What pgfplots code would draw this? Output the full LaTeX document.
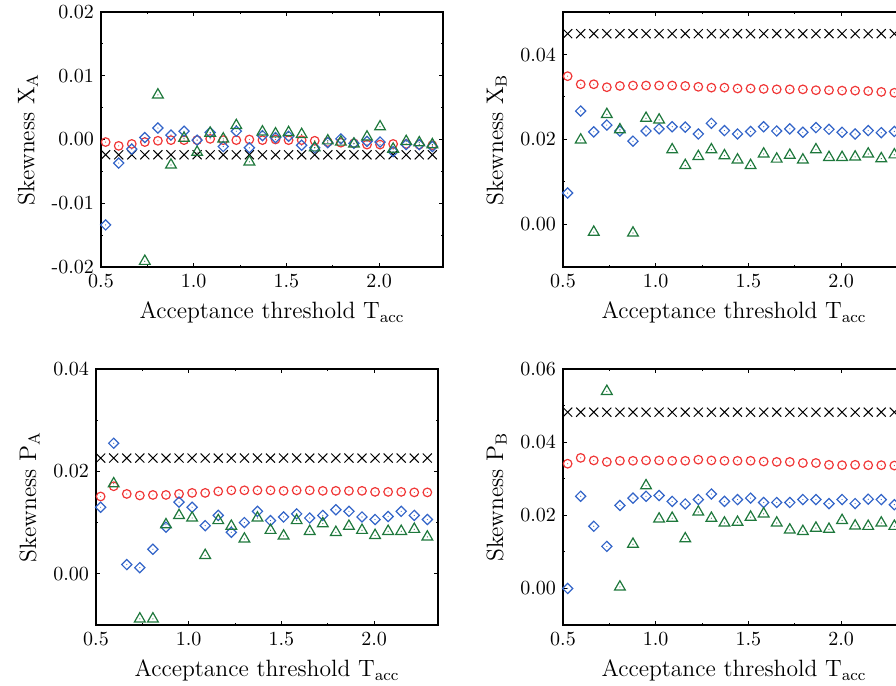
\documentclass[border=0pt]{standalone}
\usepackage{pgfplots}
\usepackage{pgfplotstable}
\pgfplotsset{compat=1.18}
\definecolor{cred}{RGB}{240,55,55}
\definecolor{cblue}{RGB}{50,100,200}
\definecolor{cgreen}{RGB}{30,120,60}
\pgfdeclareplotmark{ocirc}{%
  \pgfpathcircle{\pgfpointorigin}{\pgfplotmarksize}\pgfusepathqstroke
  \pgfpathcircle{\pgfpointorigin}{0.3pt}\pgfusepathqfill}
\pgfdeclareplotmark{odiam}{%
  \pgfpathmoveto{\pgfqpoint{0pt}{1.414\pgfplotmarksize}}%
  \pgfpathlineto{\pgfqpoint{1.414\pgfplotmarksize}{0pt}}%
  \pgfpathlineto{\pgfqpoint{0pt}{-1.414\pgfplotmarksize}}%
  \pgfpathlineto{\pgfqpoint{-1.414\pgfplotmarksize}{0pt}}%
  \pgfpathclose\pgfusepathqstroke
  \pgfpathcircle{\pgfpointorigin}{0.3pt}\pgfusepathqfill}
\pgfdeclareplotmark{otri}{%
  \pgfpathmoveto{\pgfqpoint{0pt}{\pgfplotmarksize}}%
  \pgfpathlineto{\pgfqpoint{-0.866\pgfplotmarksize}{-0.5\pgfplotmarksize}}%
  \pgfpathlineto{\pgfqpoint{0.866\pgfplotmarksize}{-0.5\pgfplotmarksize}}%
  \pgfpathclose\pgfusepathqstroke
  \pgfpathcircle{\pgfpointorigin}{0.3pt}\pgfusepathqfill}

% columns: x, c = circles, d = diamonds, t = triangles, m = crosses
\pgfplotstableread{
x c d t m
0.525 -0.0004 -0.0134 nan -0.0024
0.5955 -0.0010 -0.0037 nan -0.0024
0.666 -0.0007 -0.0015 nan -0.0024
0.7365 -0.0004 0.0003 -0.0191 -0.0024
0.807 -0.0002 0.0018 0.0070 -0.0024
0.8775 -0.0001 0.0007 -0.0040 -0.0024
0.948 -0.0001 0.0013 0.0002 -0.0024
1.0185 -0.0001 -0.0001 -0.0020 -0.0024
1.089 0.0001 0.0011 0.0010 -0.0024
1.1595 -0.0001 -0.0011 0.0001 -0.0024
1.23 -0.0001 0.0013 0.0022 -0.0024
1.3005 0.0000 -0.0013 -0.0035 -0.0024
1.371 -0.0001 0.0006 0.0012 -0.0024
1.4415 0.0000 0.0003 0.0009 -0.0024
1.512 -0.0001 0.0005 0.0011 -0.0024
1.5825 -0.0001 -0.0009 0.0008 -0.0024
1.653 -0.0002 -0.0013 -0.0013 -0.0024
1.7235 -0.0004 -0.0005 -0.0002 -0.0024
1.794 -0.0005 0.0001 -0.0004 -0.0024
1.8645 -0.0006 -0.0006 -0.0007 -0.0024
1.935 -0.0008 -0.0003 0.0004 -0.0024
2.0055 -0.0008 -0.0004 0.0020 -0.0024
2.076 -0.0007 -0.0019 -0.0015 -0.0024
2.1465 -0.0007 -0.0008 -0.0003 -0.0024
2.217 -0.0008 -0.0008 -0.0005 -0.0024
2.2875 -0.0009 -0.0011 -0.0008 -0.0024
}\tabXA

\pgfplotstableread{
x c d t m
0.525 0.0349 0.0074 nan 0.0449
0.5955 0.0330 0.0267 0.0199 0.0449
0.666 0.0330 0.0218 -0.0018 0.0449
0.7365 0.0323 0.0234 0.0259 0.0449
0.807 0.0326 0.0220 0.0223 0.0449
0.8775 0.0327 0.0196 -0.0020 0.0449
0.948 0.0327 0.0220 0.0250 0.0449
1.0185 0.0327 0.0225 0.0246 0.0449
1.089 0.0327 0.0230 0.0176 0.0449
1.1595 0.0326 0.0229 0.0139 0.0449
1.23 0.0324 0.0213 0.0160 0.0449
1.3005 0.0322 0.0238 0.0176 0.0449
1.371 0.0322 0.0221 0.0162 0.0449
1.4415 0.0320 0.0213 0.0152 0.0449
1.512 0.0320 0.0219 0.0139 0.0449
1.5825 0.0319 0.0230 0.0166 0.0449
1.653 0.0318 0.0220 0.0154 0.0449
1.7235 0.0318 0.0225 0.0163 0.0449
1.794 0.0318 0.0217 0.0152 0.0449
1.8645 0.0316 0.0228 0.0176 0.0449
1.935 0.0316 0.0224 0.0158 0.0449
2.0055 0.0315 0.0217 0.0158 0.0449
2.076 0.0315 0.0213 0.0159 0.0449
2.1465 0.0314 0.0221 0.0166 0.0449
2.217 0.0312 0.0216 0.0155 0.0449
2.2875 0.0310 0.0219 0.0164 0.0449
}\tabXB

\pgfplotstableread{
x c d t m
0.525 0.0151 0.0130 nan 0.0226
0.5955 0.0171 0.0255 0.0176 0.0226
0.666 0.0156 0.0018 nan 0.0226
0.7365 0.0153 0.0012 -0.0088 0.0226
0.807 0.0154 0.0048 -0.0088 0.0226
0.8775 0.0154 0.0091 0.0096 0.0226
0.948 0.0156 0.0140 0.0114 0.0226
1.0185 0.0158 0.0130 0.0109 0.0226
1.089 0.0158 0.0094 0.0036 0.0226
1.1595 0.0161 0.0114 0.0104 0.0226
1.23 0.0163 0.0081 0.0093 0.0226
1.3005 0.0163 0.0100 0.0068 0.0226
1.371 0.0163 0.0122 0.0109 0.0226
1.4415 0.0163 0.0104 0.0085 0.0226
1.512 0.0162 0.0111 0.0074 0.0226
1.5825 0.0163 0.0117 0.0104 0.0226
1.653 0.0163 0.0109 0.0083 0.0226
1.7235 0.0162 0.0114 0.0098 0.0226
1.794 0.0162 0.0125 0.0081 0.0226
1.8645 0.0162 0.0122 0.0093 0.0226
1.935 0.0162 0.0111 0.0085 0.0226
2.0055 0.0160 0.0106 0.0075 0.0226
2.076 0.0160 0.0112 0.0083 0.0226
2.1465 0.0160 0.0122 0.0083 0.0226
2.217 0.0159 0.0114 0.0087 0.0226
2.2875 0.0159 0.0106 0.0072 0.0226
}\tabPA

\pgfplotstableread{
x c d t m
0.525 0.0341 0.0000 nan 0.0482
0.5955 0.0357 0.0252 nan 0.0482
0.666 0.0350 0.0170 nan 0.0482
0.7365 0.0346 0.0115 0.0539 0.0482
0.807 0.0349 0.0227 0.0004 0.0482
0.8775 0.0349 0.0247 0.0121 0.0482
0.948 0.0350 0.0252 0.0281 0.0482
1.0185 0.0350 0.0254 0.0190 0.0482
1.089 0.0349 0.0238 0.0192 0.0482
1.1595 0.0349 0.0231 0.0136 0.0482
1.23 0.0352 0.0243 0.0209 0.0482
1.3005 0.0350 0.0258 0.0192 0.0482
1.371 0.0349 0.0238 0.0179 0.0482
1.4415 0.0349 0.0243 0.0181 0.0482
1.512 0.0349 0.0247 0.0195 0.0482
1.5825 0.0347 0.0235 0.0204 0.0482
1.653 0.0346 0.0235 0.0179 0.0482
1.7235 0.0346 0.0235 0.0160 0.0482
1.794 0.0343 0.0243 0.0156 0.0482
1.8645 0.0343 0.0243 0.0165 0.0482
1.935 0.0338 0.0232 0.0162 0.0482
2.0055 0.0337 0.0243 0.0186 0.0482
2.076 0.0338 0.0232 0.0171 0.0482
2.1465 0.0337 0.0244 0.0170 0.0482
2.217 0.0337 0.0243 0.0179 0.0482
2.2875 0.0336 0.0229 0.0170 0.0482
}\tabPB

\pgfplotsset{
  skew/.style={
    width=171pt, scale only axis, anchor=south west,
    xmin=0.5, xmax=2.345,
    xtick={0.5,1.0,1.5,2.0}, xticklabels={0.5,1.0,1.5,2.0},
    minor x tick num=1, minor y tick num=1,
    scaled y ticks=false, scaled x ticks=false,
    tick align=inside,
    major tick length=2.2pt, minor tick length=1.2pt,
    axis line style={line width=0.6pt},
    every tick/.append style={line width=0.5pt, black},
    tick label style={font=\fontsize{10}{11}\selectfont},
    label style={font=\fontsize{11.8}{14}\selectfont},
    xlabel={Acceptance threshold T$_\mathrm{acc}$},
    clip=true,
  },
  pm/.style={only marks, mark=x, mark size=3.2pt, black, line width=0.5pt},
  pc/.style={only marks, mark=ocirc, mark size=2.15pt, cred, line width=0.6pt},
  pd/.style={only marks, mark=odiam, mark size=1.8pt, cblue, line width=0.6pt},
  pt/.style={only marks, mark=otri, mark size=3.1pt, cgreen, line width=0.6pt},
}

\begin{document}
\begin{tikzpicture}
\path[use as bounding box] (0pt,0pt) rectangle (448pt,343pt);

\begin{axis}[skew, at={(50.5pt,209.5pt)}, height=127.5pt,
  ymin=-0.02, ymax=0.02,
  ytick={-0.02,-0.01,0,0.01,0.02}, yticklabels={-0.02,-0.01,0.00,0.01,0.02},
  ylabel={Skewness $\mathrm{X}_\mathrm{A}$}]
\addplot[pm] table[x=x,y=m] {\tabXA};
\addplot[pc] table[x=x,y=c] {\tabXA};
\addplot[pd] table[x=x,y=d] {\tabXA};
\addplot[pt] table[x=x,y=t] {\tabXA};
\end{axis}

\begin{axis}[skew, at={(281.5pt,209.5pt)}, height=127.5pt,
  ymin=-0.01, ymax=0.05,
  ytick={0,0.02,0.04}, yticklabels={0.00,0.02,0.04},
  ylabel={Skewness $\mathrm{X}_\mathrm{B}$}]
\addplot[pm] table[x=x,y=m] {\tabXB};
\addplot[pc] table[x=x,y=c] {\tabXB};
\addplot[pd] table[x=x,y=d] {\tabXB};
\addplot[pt] table[x=x,y=t] {\tabXB};
\end{axis}

\begin{axis}[skew, at={(48pt,30.5pt)}, height=128pt,
  ymin=-0.01, ymax=0.04,
  ytick={0,0.02,0.04}, yticklabels={0.00,0.02,0.04},
  ylabel={Skewness $\mathrm{P}_\mathrm{A}$}]
\addplot[pm] table[x=x,y=m] {\tabPA};
\addplot[pc] table[x=x,y=c] {\tabPA};
\addplot[pd] table[x=x,y=d] {\tabPA};
\addplot[pt] table[x=x,y=t] {\tabPA};
\end{axis}

\begin{axis}[skew, at={(281.5pt,30.5pt)}, height=128pt,
  ymin=-0.01, ymax=0.06,
  ytick={0,0.02,0.04,0.06}, yticklabels={0.00,0.02,0.04,0.06},
  ylabel={Skewness $\mathrm{P}_\mathrm{B}$}]
\addplot[pm] table[x=x,y=m] {\tabPB};
\addplot[pc] table[x=x,y=c] {\tabPB};
\addplot[pd] table[x=x,y=d] {\tabPB};
\addplot[pt] table[x=x,y=t] {\tabPB};
\end{axis}
\end{tikzpicture}
\end{document}
